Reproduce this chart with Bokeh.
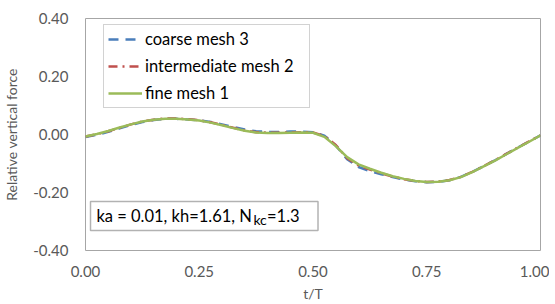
from bokeh.plotting import figure
from bokeh.models import (FixedTicker, PrintfTickFormatter, Legend, LegendItem,
                          Label, BoxAnnotation, Range1d)
from bokeh.embed import file_html
from bokeh.resources import INLINE

t = [0.0, 0.025, 0.05, 0.075, 0.1, 0.125, 0.15, 0.175, 0.2, 0.225, 0.25, 0.275,
     0.3, 0.325, 0.35, 0.375, 0.4, 0.425, 0.45, 0.475, 0.5, 0.525, 0.55, 0.575,
     0.6, 0.625, 0.65, 0.675, 0.7, 0.725, 0.75, 0.775, 0.8, 0.825, 0.85, 0.875,
     0.9, 0.925, 0.95, 0.975, 1.0]
fine = [-0.007, 0.002, 0.012, 0.024, 0.035, 0.045, 0.051, 0.054, 0.054, 0.052,
        0.048, 0.041, 0.032, 0.022, 0.013, 0.007, 0.005, 0.005, 0.006, 0.007,
        0.006, -0.008, -0.040, -0.078, -0.103, -0.118, -0.132, -0.144, -0.153,
        -0.160, -0.164, -0.163, -0.158, -0.147, -0.130, -0.110, -0.090, -0.068,
        -0.046, -0.025, -0.003]
intermediate = [-0.007, 0.001, 0.011, 0.023, 0.035, 0.045, 0.051, 0.055, 0.055, 0.053,
                0.049, 0.042, 0.033, 0.023, 0.014, 0.008, 0.006, 0.006, 0.007, 0.008,
                0.007, -0.005, -0.036, -0.082, -0.107, -0.121, -0.134, -0.145, -0.154,
                -0.160, -0.164, -0.162, -0.157, -0.146, -0.129, -0.109, -0.089, -0.067,
                -0.045, -0.024, -0.003]
coarse = [-0.009, -0.001, 0.009, 0.021, 0.033, 0.043, 0.050, 0.054, 0.054, 0.052,
          0.049, 0.043, 0.035, 0.026, 0.017, 0.011, 0.009, 0.009, 0.010, 0.010,
          0.008, -0.004, -0.038, -0.085, -0.112, -0.126, -0.137, -0.147, -0.155,
          -0.161, -0.165, -0.163, -0.158, -0.146, -0.129, -0.109, -0.089, -0.067,
          -0.045, -0.024, -0.003]

series_names = ["coarse mesh 3", "intermediate mesh 2", "fine mesh 1"]
x_ticks = [0.0, 0.25, 0.5, 0.75, 1.0]
y_ticks = [-0.4, -0.2, 0.0, 0.2, 0.4]
annotation_main = "ka = 0.01, kh=1.61, N"
annotation_sub = "kc"
annotation_tail = "=1.3"

FONT = "Lato"
GRAY = "#595959"

p = figure(frame_width=455, frame_height=232, output_backend="svg", toolbar_location=None,
           x_range=Range1d(0, 1), y_range=Range1d(-0.4, 0.4),
           min_border_left=75, min_border_right=9, min_border_top=18,
           min_border_bottom=10)
p.xgrid.visible = False
p.ygrid.visible = False
p.outline_line_color = "#A6A6A6"
p.outline_line_width = 1
p.background_fill_color = "white"
p.border_fill_color = "white"

for ax in (p.xaxis[0], p.yaxis[0]):
    ax.axis_line_color = None
    ax.major_tick_line_color = None
    ax.minor_tick_line_color = None
    ax.major_tick_out = 0
    ax.major_tick_in = 0
    ax.minor_tick_out = 0
    ax.minor_tick_in = 0
    ax.major_label_text_font = FONT
    ax.major_label_text_font_size = "15px"
    ax.major_label_text_color = GRAY
    ax.axis_label_text_font = FONT
    ax.axis_label_text_font_size = "14px"
    ax.axis_label_text_color = GRAY
    ax.axis_label_text_font_style = "normal"
    ax.formatter = PrintfTickFormatter(format="%.2f")

p.xaxis.ticker = FixedTicker(ticks=x_ticks)
p.yaxis.ticker = FixedTicker(ticks=y_ticks)
p.xaxis.axis_label = "t/T"
p.yaxis.axis_label = "Relative vertical force"
p.xaxis.major_label_standoff = 15
p.yaxis.major_label_standoff = 17
p.xaxis.axis_label_standoff = 5
p.yaxis.axis_label_standoff = 10

r_coarse = p.line(t, coarse, line_color="#4A7EBB", line_width=2.5, line_dash="10 7")
r_inter = p.line(t, intermediate, line_color="#C0504D", line_width=2.5, line_dash="9 5 2 5")
r_fine = p.line(t, fine, line_color="#9BBB59", line_width=2.5)

legend = Legend(items=[LegendItem(label=series_names[0], renderers=[r_coarse]),
                       LegendItem(label=series_names[1], renderers=[r_inter]),
                       LegendItem(label=series_names[2], renderers=[r_fine])],
                location=(18, 142), orientation="vertical")
legend.label_text_font = FONT
legend.label_text_font_size = "16.5px"
legend.label_text_color = "#000000"
legend.glyph_width = 34
legend.glyph_height = 16
legend.label_height = 16
legend.label_width = 160
legend.spacing = 7
legend.padding = 4
legend.label_standoff = 3
legend.border_line_color = "#A6A6A6"
legend.border_line_width = 1
legend.background_fill_color = "white"
legend.background_fill_alpha = 1
legend.margin = 0
p.add_layout(legend)

box = BoxAnnotation(left=0.011, right=0.511, top=-0.231, bottom=-0.331,
                    fill_color="white", fill_alpha=1, line_color="black", line_width=1.5)
p.add_layout(box)
p.add_layout(Label(x=0.024, y=-0.316, text=annotation_main, text_font=FONT,
                   text_font_size="16.5px", text_color="black"))
p.add_layout(Label(x=0.369, y=-0.324, text=annotation_sub, text_font=FONT,
                   text_font_size="14px", text_color="black"))
p.add_layout(Label(x=0.399, y=-0.316, text=annotation_tail, text_font=FONT,
                   text_font_size="16.5px", text_color="black"))

open("out.html", "w").write(file_html(p, INLINE))
